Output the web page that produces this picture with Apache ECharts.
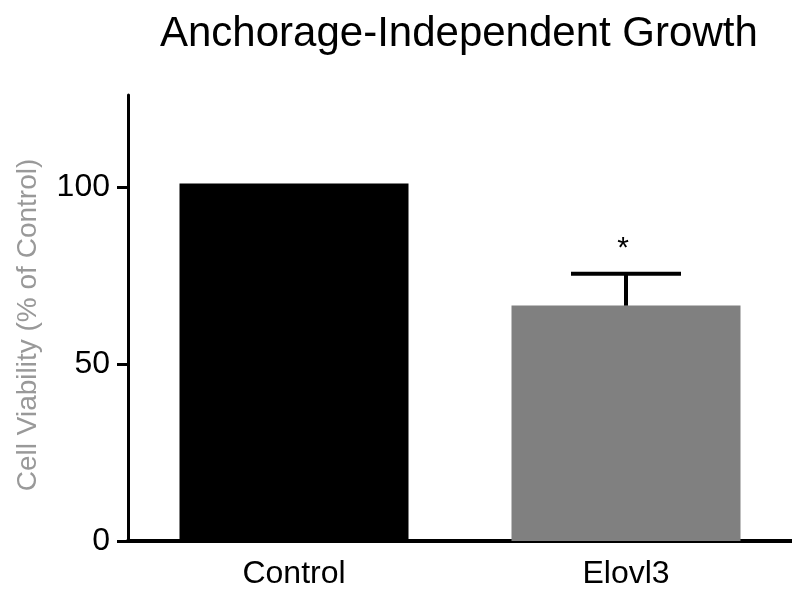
<!DOCTYPE html>
<html>
<head>
<meta charset="utf-8">
<script src="https://cdn.jsdelivr.net/npm/echarts@6/dist/echarts.min.js"></script>
<style>html,body{margin:0;padding:0;background:#fff}#c{width:792px;height:592px}</style>
</head>
<body>
<div id="c"></div>
<script>
var categories = ['Control', 'Elovl3'];
var meanValues = [101, 66.5];
var errorValues = [0, 9];
var annotations = ['', '*'];
var yTicks = [0, 50, 100];
var barColors = ['#000000', '#808080'];

var chart = echarts.init(document.getElementById('c'));
var FONT = '"Liberation Sans", Arial, sans-serif';

chart.setOption({
  animation: false,
  backgroundColor: '#ffffff',
  title: {
    text: 'Anchorage-Independent Growth',
    left: 155,
    top: 8,
    textStyle: { fontFamily: FONT, fontSize: 42, fontWeight: 'normal', color: '#000' }
  },
  grid: { left: 128, width: 668, top: 95, bottom: 51 },
  xAxis: {
    type: 'category',
    data: categories,
    axisLine: { lineStyle: { color: '#000', width: 4 } },
    axisTick: { alignWithLabel: true, length: 12, lineStyle: { color: '#000', width: 3 } },
    axisLabel: { fontFamily: FONT, fontSize: 32, color: '#000', margin: 17 }
  },
  yAxis: {
    type: 'value',
    min: 0,
    max: 126,
    interval: 50,
    name: 'Cell Viability (% of Control)',
    nameLocation: 'middle',
    nameGap: 86,
    nameTextStyle: { fontFamily: FONT, fontSize: 28, color: '#999999', padding: [0, 14, 0, 0] },
    splitLine: { show: false },
    axisLine: { show: true, lineStyle: { color: '#000', width: 3 } },
    axisTick: { show: true, length: 11, customValues: yTicks, lineStyle: { color: '#000', width: 3 } },
    axisLabel: { fontFamily: FONT, fontSize: 32, color: '#000', margin: 18, customValues: yTicks }
  },
  series: [
    {
      type: 'bar',
      barWidth: 229,
      data: meanValues.map(function (v, i) {
        return { value: v, itemStyle: { color: barColors[i] } };
      }),
      z: 2
    },
    {
      type: 'custom',
      z: 3,
      data: meanValues.map(function (v, i) { return [i, v, errorValues[i]]; }),
      renderItem: function (params, api) {
        var idx = api.value(0);
        var mean = api.value(1);
        var err = api.value(2);
        var children = [];
        var top = api.coord([idx, mean + err]);
        var base = api.coord([idx, mean]);
        if (err > 0) {
          var style = { stroke: '#000', lineWidth: 4 };
          children.push({ type: 'line', shape: { x1: top[0], y1: top[1], x2: base[0], y2: base[1] }, style: style });
          children.push({ type: 'line', shape: { x1: top[0] - 55, y1: top[1], x2: top[0] + 55, y2: top[1] }, style: style });
        }
        var ann = annotations[params.dataIndex];
        if (ann) {
          children.push({
            type: 'text',
            style: { text: ann, x: top[0] - 3, y: top[1] - 10, align: 'center', verticalAlign: 'bottom',
                     font: '30px ' + FONT, fill: '#000' }
          });
        }
        return { type: 'group', children: children };
      }
    }
  ]
});
</script>
</body>
</html>
